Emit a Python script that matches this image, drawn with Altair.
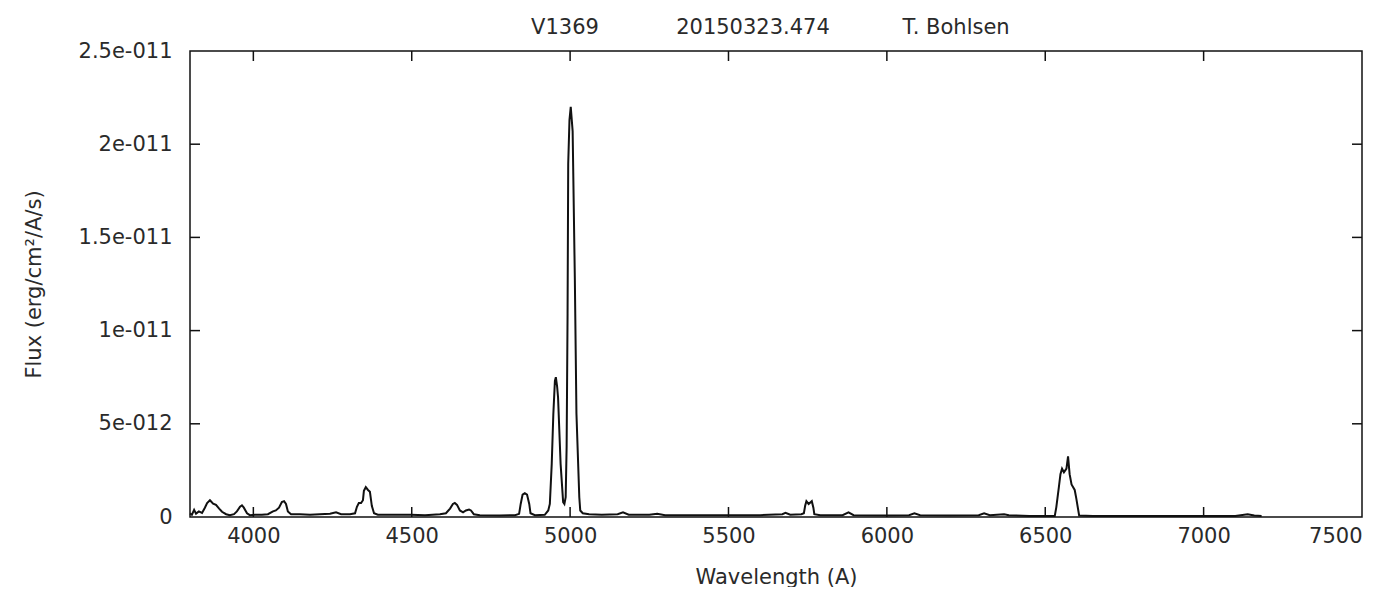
import altair as alt
import pandas as pd

# ---- data ----
wavelength = [3800,3806,3813,3819,3828,3838,3847,3854,3863,3873,
              3882,3892,3901,3914,3926,3939,3948,3958,3964,3970,
              3980,3989,4005,4027,4046,4062,4071,4081,4090,4097,
              4103,4109,4119,4147,4179,4210,4242,4261,4277,4305,
              4321,4327,4333,4340,4346,4349,4355,4362,4368,4374,
              4381,4393,4431,4463,4497,4542,4589,4608,4621,4630,
              4636,4643,4652,4662,4671,4681,4687,4696,4715,4778,
              4826,4839,4844,4850,4857,4864,4871,4875,4889,4920,
              4931,4936,4942,4947,4952,4955,4959,4962,4970,4978,
              4982,4986,4989,4992,4994,4998,5002,5008,5015,5020,
              5029,5032,5040,5060,5100,5150,5167,5185,5250,5275,
              5300,5400,5500,5600,5670,5680,5695,5730,5738,5742,
              5746,5753,5763,5768,5771,5790,5860,5879,5895,6000,
              6070,6087,6105,6200,6290,6307,6325,6370,6385,6450,
              6500,6530,6535,6543,6548,6553,6559,6567,6572,6577,
              6583,6593,6598,6607,6650,6700,6800,6900,7000,7100,
              7139,7160,7183]
flux_e12 = [0.19,0.12,0.38,0.18,0.3,0.22,0.5,0.75,0.9,0.72,
            0.65,0.45,0.28,0.15,0.1,0.15,0.3,0.55,0.62,0.5,
            0.2,0.1,0.12,0.12,0.15,0.3,0.35,0.5,0.8,0.85,
            0.7,0.3,0.15,0.15,0.12,0.15,0.18,0.25,0.15,0.15,
            0.2,0.55,0.75,0.75,0.9,1.4,1.6,1.45,1.35,0.6,
            0.2,0.12,0.12,0.12,0.12,0.1,0.15,0.2,0.45,0.7,
            0.75,0.65,0.35,0.25,0.35,0.4,0.35,0.15,0.1,0.08,
            0.1,0.17,0.7,1.2,1.28,1.2,0.7,0.2,0.1,0.12,
            0.35,0.7,2.85,5.5,7.3,7.5,7.0,6.4,2.85,0.8,
            0.7,1.06,3.75,10.9,18.95,21.3,22.0,20.7,12.7,5.55,
            1.06,0.35,0.2,0.15,0.12,0.15,0.25,0.12,0.12,0.18,
            0.1,0.1,0.1,0.1,0.15,0.22,0.12,0.15,0.2,0.6,
            0.85,0.7,0.85,0.5,0.15,0.1,0.1,0.25,0.1,0.08,
            0.1,0.2,0.1,0.08,0.1,0.2,0.1,0.15,0.1,0.06,
            0.06,0.05,0.53,1.6,2.3,2.59,2.4,2.6,3.25,2.3,
            1.75,1.45,1.0,0.08,0.05,0.05,0.06,0.05,0.06,0.06,
            0.15,0.08,0.05]

x_ticks = [4000, 4500, 5000, 5500, 6000, 6500, 7000, 7500]
y_ticks = [0, 5e-12, 1e-11, 1.5e-11, 2e-11, 2.5e-11]
y_tick_labels = ["0", "5e-012", "1e-011", "1.5e-011", "2e-011", "2.5e-011"]
title_parts = ["V1369", "20150323.474", "T. Bohlsen"]

FONT = "DejaVu Sans"
FS = 21
TXT = "#2a2a2a"
INK = "#111111"
W, H = 1172, 466
TL = 10  # inner tick length

df = pd.DataFrame({"wl": wavelength, "flux": [v * 1e-12 for v in flux_e12]})
xt = pd.DataFrame({"wl": x_ticks[:-1]})
yt = pd.DataFrame({"flux": y_ticks[1:-1]})

label_expr = "[" + ",".join("'%s'" % s for s in y_tick_labels) + "][round(datum.value / 5e-12)]"

xscale = alt.Scale(domain=[3800, 7500], nice=False, zero=False)
yscale = alt.Scale(domain=[0, 2.5e-11], nice=False)

line = alt.Chart(df).mark_line(color=INK, strokeWidth=2).encode(
    x=alt.X("wl:Q", scale=xscale,
            axis=alt.Axis(values=x_ticks, title="Wavelength (A)", grid=False,
                          domain=False, ticks=False, tickSize=0,
                          labelPadding=8, titlePadding=20, format="d")),
    y=alt.Y("flux:Q", scale=yscale,
            axis=alt.Axis(values=y_ticks, title="Flux (erg/cm²/A/s)", grid=False,
                          domain=False, ticks=False, tickSize=0,
                          labelPadding=18, titlePadding=34, labelExpr=label_expr)),
)

frame = alt.Chart(pd.DataFrame({"f": [0]})).mark_rect(
    fill=None, filled=False, stroke=INK, strokeWidth=1.5
).encode(x=alt.value(0), x2=alt.value(W), y=alt.value(0), y2=alt.value(H))

bottom_ticks = alt.Chart(xt).mark_rule(color=INK, strokeWidth=1.5).encode(
    x=alt.X("wl:Q", scale=xscale), y=alt.value(H), y2=alt.value(H - TL))
top_ticks = alt.Chart(xt).mark_rule(color=INK, strokeWidth=1.5).encode(
    x=alt.X("wl:Q", scale=xscale), y=alt.value(0), y2=alt.value(TL))
left_ticks = alt.Chart(yt).mark_rule(color=INK, strokeWidth=1.5).encode(
    y=alt.Y("flux:Q", scale=yscale), x=alt.value(0), x2=alt.value(TL))
right_ticks = alt.Chart(yt).mark_rule(color=INK, strokeWidth=1.5).encode(
    y=alt.Y("flux:Q", scale=yscale), x=alt.value(W), x2=alt.value(W - TL))

title_cx = [375, 563, 766]
titles = [
    alt.Chart(pd.DataFrame({"t": [t]})).mark_text(
        align="center", baseline="middle", font=FONT, fontSize=FS, color=TXT
    ).encode(text="t:N", x=alt.value(px), y=alt.value(-23))
    for t, px in zip(title_parts, title_cx)
]

chart = alt.layer(line, bottom_ticks, top_ticks, left_ticks, right_ticks, frame, *titles).properties(
    width=W, height=H,
    background="white",
    autosize=alt.AutoSizeParams(type="none"),
    padding={"left": 182, "top": 43, "right": 20, "bottom": 70},
).configure_view(
    strokeWidth=0
).configure_axis(
    labelFont=FONT, titleFont=FONT, labelFontSize=FS, titleFontSize=FS,
    labelColor=TXT, titleColor=TXT, titleFontWeight="normal",
)

chart.save("out.html", embed_options={"renderer": "svg", "actions": False})
